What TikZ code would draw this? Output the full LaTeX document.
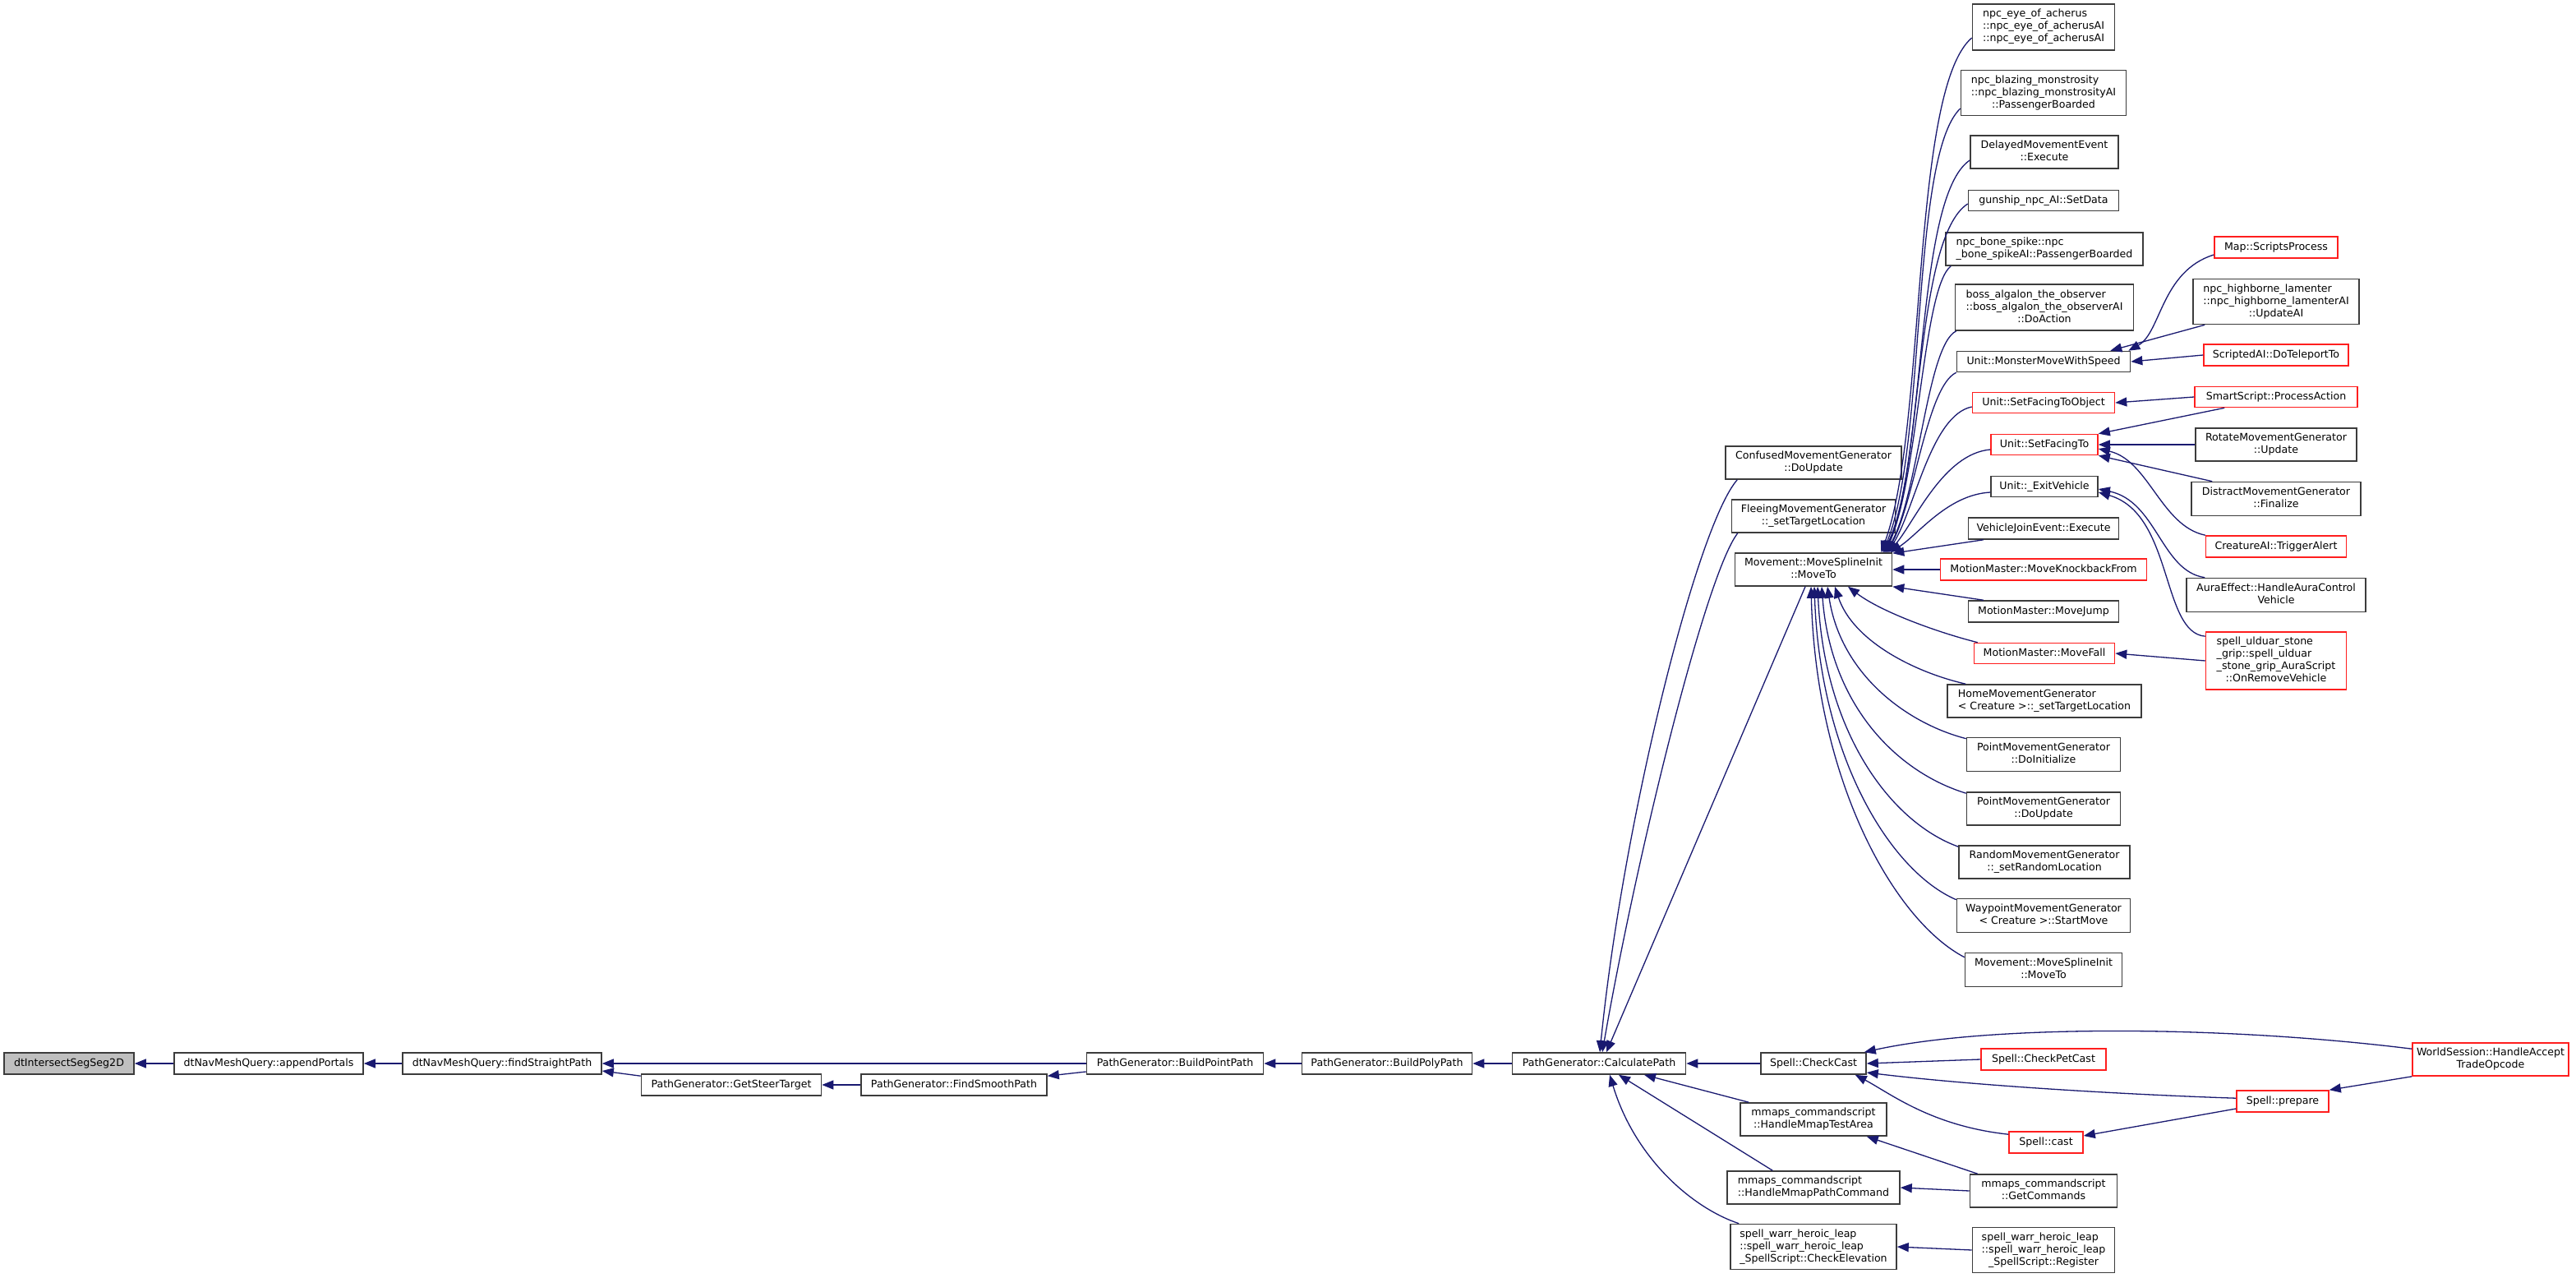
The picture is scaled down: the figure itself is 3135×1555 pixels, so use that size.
\documentclass[tikz,border=0pt]{standalone}
\usepackage{fontspec}
\newfontfamily\nf{DejaVu Sans}
\usetikzlibrary{arrows.meta}
\definecolor{navyc}{RGB}{25,25,112}
\definecolor{boxc}{RGB}{60,60,60}
\definecolor{redc}{RGB}{255,30,30}
\definecolor{grayfill}{RGB}{191,191,191}
\newcommand\nodefont{\nf\fontsize{12.6pt}{15pt}\selectfont}
\newcommand\mlab[1]{\begin{tabular}{@{}l@{}}#1\end{tabular}}
\newcommand\lastc[1]{\multicolumn{1}{@{}c@{}}{#1}}
\tikzset{
  box/.style={draw=boxc, line width=1.6pt, fill=white, inner sep=0pt, font=\nodefont, rectangle},
  rbox/.style={box, draw=redc},
  conn/.style={draw=navyc, line width=1.3pt, >={Triangle[length=14pt,width=11pt]}, <-},
}
\begin{document}
\begin{tikzpicture}[x=1pt,y=-1pt]
\fill[white] (0,0) rectangle (3135,1555);
\useasboundingbox (0,0) rectangle (3135,1555);

% main chain
\node[box, fill=grayfill, minimum width=158, minimum height=26] (dtI) at (84,1294) {\mlab{dtIntersectSegSeg2D}};
\node[box, minimum width=230, minimum height=26] (appP) at (327,1294) {\mlab{dtNavMeshQuery::appendPortals}};
\node[box, minimum width=242, minimum height=26] (fsp) at (611,1294) {\mlab{dtNavMeshQuery::findStraightPath}};
\node[box, minimum width=219, minimum height=26] (gst) at (890,1320) {\mlab{PathGenerator::GetSteerTarget}};
\node[box, minimum width=226, minimum height=26] (fsm) at (1161,1320) {\mlab{PathGenerator::FindSmoothPath}};
\node[box, minimum width=215, minimum height=26] (bpp) at (1430,1294) {\mlab{PathGenerator::BuildPointPath}};
\node[box, minimum width=207, minimum height=26] (bpoly) at (1688,1294) {\mlab{PathGenerator::BuildPolyPath}};
\node[box, minimum width=211, minimum height=26] (calc) at (1946,1294) {\mlab{PathGenerator::CalculatePath}};

% column 8
\node[box, minimum width=214, minimum height=40] (conf) at (2207,563) {\mlab{ConfusedMovementGenerator\\\lastc{::DoUpdate}}};
\node[box, minimum width=199, minimum height=40] (flee) at (2207,628) {\mlab{FleeingMovementGenerator\\\lastc{::\_setTargetLocation}}};
\node[box, minimum width=191, minimum height=40] (mvt) at (2207,693) {\mlab{Movement::MoveSplineInit\\\lastc{::MoveTo}}};
\node[box, minimum width=128, minimum height=26] (cc) at (2207,1294) {\mlab{Spell::CheckCast}};
\node[box, minimum width=178, minimum height=40] (tarea) at (2207,1362) {\mlab{mmaps\_commandscript\\\lastc{::HandleMmapTestArea}}};
\node[box, minimum width=210, minimum height=40] (pcmd) at (2207,1445) {\mlab{mmaps\_commandscript\\\lastc{::HandleMmapPathCommand}}};
\node[box, minimum width=202, minimum height=55] (celev) at (2207,1517) {\mlab{spell\_warr\_heroic\_leap\\::spell\_warr\_heroic\_leap\\\lastc{\_SpellScript::CheckElevation}}};

% column 9
\node[box, minimum width=173, minimum height=56] (eye) at (2487,33) {\mlab{npc\_eye\_of\_acherus\\::npc\_eye\_of\_acherusAI\\\lastc{::npc\_eye\_of\_acherusAI}}};
\node[box, minimum width=201, minimum height=55] (blaz) at (2487,113) {\mlab{npc\_blazing\_monstrosity\\::npc\_blazing\_monstrosityAI\\\lastc{::PassengerBoarded}}};
\node[box, minimum width=180, minimum height=40] (dme) at (2488,185) {\mlab{DelayedMovementEvent\\\lastc{::Execute}}};
\node[box, minimum width=183, minimum height=25] (gun) at (2487,244) {\mlab{gunship\_npc\_AI::SetData}};
\node[box, minimum width=240, minimum height=40] (bone) at (2488,303) {\mlab{npc\_bone\_spike::npc\\\lastc{\_bone\_spikeAI::PassengerBoarded}}};
\node[box, minimum width=217, minimum height=56] (boss) at (2488,374) {\mlab{boss\_algalon\_the\_observer\\::boss\_algalon\_the\_observerAI\\\lastc{::DoAction}}};
\node[box, minimum width=211, minimum height=25] (mmws) at (2487,440) {\mlab{Unit::MonsterMoveWithSpeed}};
\node[rbox, minimum width=173, minimum height=25] (sfto) at (2487,490) {\mlab{Unit::SetFacingToObject}};
\node[rbox, minimum width=130, minimum height=25] (sft) at (2488,541) {\mlab{Unit::SetFacingTo}};
\node[box, minimum width=130, minimum height=25] (exv) at (2488,592) {\mlab{Unit::\_ExitVehicle}};
\node[box, minimum width=183, minimum height=26] (vje) at (2487,643) {\mlab{VehicleJoinEvent::Execute}};
\node[rbox, minimum width=251, minimum height=26] (mkb) at (2487,693) {\mlab{MotionMaster::MoveKnockbackFrom}};
\node[box, minimum width=183, minimum height=26] (mj) at (2487,744) {\mlab{MotionMaster::MoveJump}};
\node[rbox, minimum width=171, minimum height=25] (mf) at (2488,795) {\mlab{MotionMaster::MoveFall}};
\node[box, minimum width=236, minimum height=40] (home) at (2488,853) {\mlab{HomeMovementGenerator\\\lastc{< Creature >::\_setTargetLocation}}};
\node[box, minimum width=187, minimum height=41] (pinit) at (2487,918) {\mlab{PointMovementGenerator\\\lastc{::DoInitialize}}};
\node[box, minimum width=187, minimum height=40] (pupd) at (2487,984) {\mlab{PointMovementGenerator\\\lastc{::DoUpdate}}};
\node[box, minimum width=208, minimum height=40] (rnd) at (2488,1049) {\mlab{RandomMovementGenerator\\\lastc{::\_setRandomLocation}}};
\node[box, minimum width=211, minimum height=41] (wp) at (2487,1114) {\mlab{WaypointMovementGenerator\\\lastc{< Creature >::StartMove}}};
\node[box, minimum width=191, minimum height=41] (mvt2) at (2487,1180) {\mlab{Movement::MoveSplineInit\\\lastc{::MoveTo}}};
\node[rbox, minimum width=152, minimum height=26] (cpc) at (2487,1289) {\mlab{Spell::CheckPetCast}};
\node[rbox, minimum width=90, minimum height=26] (cast) at (2490,1390) {\mlab{Spell::cast}};
\node[box, minimum width=179, minimum height=40] (getc) at (2487,1449) {\mlab{mmaps\_commandscript\\\lastc{::GetCommands}}};
\node[box, minimum width=173, minimum height=55] (reg) at (2487,1521) {\mlab{spell\_warr\_heroic\_leap\\::spell\_warr\_heroic\_leap\\\lastc{\_SpellScript::Register}}};

% column 10
\node[rbox, minimum width=150, minimum height=26] (map) at (2770,301) {\mlab{Map::ScriptsProcess}};
\node[box, minimum width=202, minimum height=55] (hb) at (2770,367) {\mlab{npc\_highborne\_lamenter\\::npc\_highborne\_lamenterAI\\\lastc{::UpdateAI}}};
\node[rbox, minimum width=176, minimum height=26] (sai) at (2770,432) {\mlab{ScriptedAI::DoTeleportTo}};
\node[rbox, minimum width=198, minimum height=25] (ss) at (2770,483) {\mlab{SmartScript::ProcessAction}};
\node[box, minimum width=196, minimum height=40] (rot) at (2770,541) {\mlab{RotateMovementGenerator\\\lastc{::Update}}};
\node[box, minimum width=206, minimum height=41] (dis) at (2770,607) {\mlab{DistractMovementGenerator\\\lastc{::Finalize}}};
\node[rbox, minimum width=171, minimum height=26] (ta) at (2770,665) {\mlab{CreatureAI::TriggerAlert}};
\node[box, minimum width=218, minimum height=41] (ae) at (2770,724) {\mlab{AuraEffect::HandleAuraControl\\\lastc{Vehicle}}};
\node[rbox, minimum width=171, minimum height=70] (su) at (2770,804) {\mlab{spell\_ulduar\_stone\\\_grip::spell\_ulduar\\\_stone\_grip\_AuraScript\\\lastc{::OnRemoveVehicle}}};
\node[rbox, minimum width=112, minimum height=26] (prep) at (2778,1340) {\mlab{Spell::prepare}};
\node[rbox, minimum width=190, minimum height=40] (ws) at (3031,1289) {\mlab{WorldSession::HandleAccept\\\lastc{TradeOpcode}}};

% ---------- connectors (arrow at callee) ----------
\draw[conn] (dtI.east) -- (appP.west);
\draw[conn] (appP.east) -- (fsp.west);
\draw[conn] (fsp.east) -- (bpp.west);
\draw[conn] ([yshift=-9pt]fsp.east) -- ([yshift=-3pt]gst.north west);
\draw[conn] (gst.east) -- (fsm.west);
\draw[conn] ([yshift=-3pt]fsm.north east) -- ([yshift=-10pt]bpp.west);
\draw[conn] (bpp.east) -- (bpoly.west);
\draw[conn] (bpoly.east) -- (calc.west);
\draw[conn] (calc.east) -- (cc.west);

\draw[conn] ([xshift=55pt]calc.south) -- ([xshift=11pt]tarea.north west);
\draw[conn] ([xshift=24pt]calc.south) -- ([xshift=56pt]pcmd.north west);
\draw[conn] ([xshift=13pt]calc.south) .. controls (1990,1410) and (2060,1470) .. ([xshift=11pt]celev.north west);
\draw[conn] ([xshift=9pt]calc.north) -- ([xshift=-10pt]mvt.south);
\draw[conn] ([xshift=4pt]calc.north) .. controls (1990,1050) and (2075,700) .. ([xshift=8pt]flee.south west);
\draw[conn] ([xshift=1pt]calc.north) .. controls (1975,1000) and (2065,640) .. ([xshift=15pt]conf.south west);

% CheckCast
\draw[conn] (cc.east) -- (cpc.west);
\draw[conn] ([xshift=-3pt]cc.north east) .. controls (2420,1247) and (2700,1247) .. ([yshift=-8pt]ws.north west);
\draw[conn] ([yshift=-11pt]cc.east) .. controls (2420,1323) and (2620,1333) .. ([yshift=-10pt]prep.north west);
\draw[conn] ([xshift=-14pt]cc.south east) .. controls (2300,1330) and (2350,1370) .. ([yshift=-4pt]cast.north west);
\draw[conn] ([yshift=8pt]cast.east) -- ([yshift=-9pt]prep.west);
\draw[conn] (prep.north east) -- (ws.south west);

% mmaps
\draw[conn] ([xshift=-25pt]tarea.south east) -- ([xshift=10pt]getc.north west);
\draw[conn] (pcmd.east) -- (getc.west);
\draw[conn] (celev.east) -- (reg.west);

% MoveTo upper callers
\draw[conn] ([xshift=-14pt]mvt.north east) .. controls (2345,520) and (2325,110) .. ([yshift=-13pt]eye.west);
\draw[conn] ([xshift=-12pt]mvt.north east) .. controls (2345,540) and (2325,190) .. ([yshift=-19pt]blaz.west);
\draw[conn] ([xshift=-11pt]mvt.north east) .. controls (2345,560) and (2330,240) .. ([yshift=-10pt]dme.west);
\draw[conn] ([xshift=-10pt]mvt.north east) .. controls (2340,570) and (2330,290) .. ([yshift=-4pt]gun.west);
\draw[conn] ([xshift=-9pt]mvt.north east) .. controls (2335,580) and (2340,350) .. ([xshift=7pt]bone.south west);
\draw[conn] ([xshift=-8pt]mvt.north east) .. controls (2335,600) and (2345,420) .. ([xshift=2pt]boss.south west);
\draw[conn] ([xshift=-7pt]mvt.north east) .. controls (2330,610) and (2345,470) .. (mmws.south west);
\draw[conn] ([xshift=-6pt]mvt.north east) .. controls (2330,620) and (2350,505) .. ([yshift=-5pt]sfto.west);
\draw[conn] ([xshift=-5pt]mvt.north east) .. controls (2330,635) and (2365,552) .. ([yshift=-6pt]sft.west);
\draw[conn] ([xshift=-3pt]mvt.north east) .. controls (2335,650) and (2370,602) .. ([yshift=-7pt]exv.west);
\draw[conn] ([yshift=-1pt]mvt.north east) -- ([xshift=19pt]vje.south west);
\draw[conn] (mvt.east) -- (mkb.west);
\draw[conn] (mvt.south east) -- ([xshift=19pt]mj.north west);

% MoveTo lower callers
\draw[conn] ([xshift=42pt]mvt.south) .. controls (2290,745) and (2360,770) .. ([xshift=5pt]mf.north west);
\draw[conn] ([xshift=26pt]mvt.south) .. controls (2255,780) and (2330,818) .. ([xshift=23pt]home.north west);
\draw[conn] ([xshift=17pt]mvt.south) .. controls (2240,820) and (2320,880) .. ([yshift=-2pt]pinit.north west);
\draw[conn] ([xshift=10pt]mvt.south) .. controls (2228,860) and (2310,940) .. ([yshift=-2pt]pupd.north west);
\draw[conn] ([xshift=5pt]mvt.south) .. controls (2220,890) and (2300,1000) .. ([yshift=-2pt]rnd.north west);
\draw[conn] ([xshift=1pt]mvt.south) .. controls (2215,920) and (2300,1060) .. ([yshift=-2pt]wp.north west);
\draw[conn] ([xshift=-3pt]mvt.south) .. controls (2210,950) and (2305,1120) .. ([yshift=-6pt]mvt2.north west);

% right column
\draw[conn] ([xshift=-3pt]mmws.north east) .. controls (2630,405) and (2630,330) .. ([yshift=-9pt]map.west);
\draw[conn] ([xshift=-25pt]mmws.north east) -- ([xshift=15pt]hb.south west);
\draw[conn] (mmws.east) -- (sai.west);
\draw[conn] (sfto.east) -- (ss.west);
\draw[conn] (sft.north east) -- ([xshift=37pt]ss.south west);
\draw[conn] (sft.east) -- (rot.west);
\draw[conn] (sft.south east) -- ([xshift=26pt]dis.north west);
\draw[conn] ([yshift=-5pt]sft.east) .. controls (2615,560) and (2630,640) .. (ta.north west);
\draw[conn] ([yshift=-3pt]exv.east) .. controls (2625,610) and (2630,695) .. ([xshift=23pt]ae.north west);
\draw[conn] ([yshift=-7pt]exv.east) .. controls (2645,625) and (2630,770) .. ([yshift=-6pt]su.north west);
\draw[conn] (mf.east) -- (su.west);
\end{tikzpicture}
\end{document}
